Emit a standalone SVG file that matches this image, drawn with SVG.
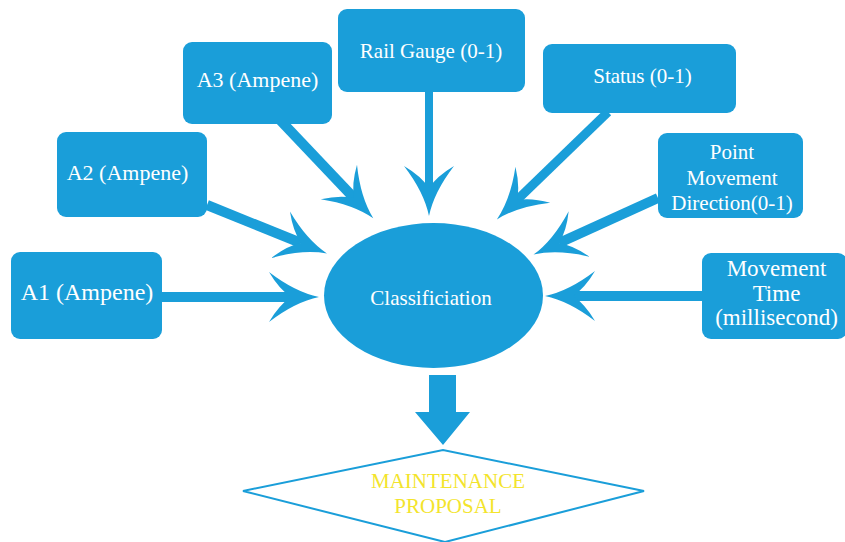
<svg xmlns="http://www.w3.org/2000/svg" width="845" height="542" viewBox="0 0 845 542">
<style>
.box{fill:#1a9ed9}
.lbl{font-family:"Liberation Serif","Times New Roman",serif;fill:#ffffff;text-anchor:middle}
.yel{font-family:"Liberation Serif","Times New Roman",serif;fill:#f3e42c;text-anchor:middle;font-size:21px}
.sh{stroke:#1a9ed9;stroke-width:10;fill:none;marker-end:url(#ah)}
</style>
<defs>
<marker id="ah" viewBox="-52 -27 54 54" refX="-28" refY="0" markerWidth="54" markerHeight="54" markerUnits="userSpaceOnUse" orient="auto" overflow="visible">
<path d="M0,0 Q-24,-5 -50,-25 Q-40,-8 -28,0 Q-40,8 -50,25 Q-24,5 0,0 Z" fill="#1a9ed9"/>
</marker>
</defs>
<g id="connectors">
<line class="sh" x1="162" y1="297" x2="291" y2="297"/>
<line class="sh" x1="207" y1="205" x2="301" y2="243"/>
<line class="sh" x1="280" y1="120" x2="354" y2="198"/>
<line class="sh" style="stroke-width:8" x1="429" y1="92" x2="429" y2="188"/>
<line class="sh" style="stroke-width:9" x1="608" y1="112" x2="517" y2="200"/>
<line class="sh" x1="658" y1="198" x2="559" y2="243"/>
<line class="sh" x1="702" y1="296" x2="573" y2="296"/>
<polygon points="429,375 456,375 456,412 470,412 443,445 415,412 429,412" fill="#1a9ed9"/>
</g>
<g id="A1"><rect class="box" x="11" y="252" width="151" height="87" rx="9"/><text class="lbl" font-family="Liberation Serif, serif" x="87" y="300" font-size="24">A1 (Ampene)</text></g>
<g id="A2"><rect class="box" x="57" y="132" width="150" height="85" rx="9"/><text class="lbl" font-family="Liberation Serif, serif" x="127.5" y="180" font-size="22">A2 (Ampene)</text></g>
<g id="A3"><rect class="box" x="183" y="42" width="149" height="82" rx="9"/><text class="lbl" font-family="Liberation Serif, serif" x="257.5" y="87" font-size="22">A3 (Ampene)</text></g>
<g id="railgauge"><rect class="box" x="338" y="9" width="187" height="83" rx="9"/><text class="lbl" font-family="Liberation Serif, serif" x="431" y="58" font-size="21">Rail Gauge (0-1)</text></g>
<g id="status"><rect class="box" x="543" y="44" width="193" height="69" rx="9"/><text class="lbl" font-family="Liberation Serif, serif" x="642.5" y="83" font-size="21">Status (0-1)</text></g>
<g id="pmd"><rect class="box" x="658" y="133" width="145" height="85" rx="9"/><text class="lbl" font-family="Liberation Serif, serif" font-size="21"><tspan x="732" y="159">Point</tspan><tspan x="732" y="185">Movement</tspan><tspan x="732" y="210">Direction(0-1)</tspan></text></g>
<g id="movetime"><rect class="box" x="702" y="253" width="145" height="86" rx="9"/><text class="lbl" font-family="Liberation Serif, serif" font-size="23"><tspan x="776.5" y="276">Movement</tspan><tspan x="776.5" y="301">Time</tspan><tspan x="776.5" y="325">(millisecond)</tspan></text></g>
<g id="classification"><ellipse cx="433.5" cy="295.5" rx="109.5" ry="72.5" fill="#1a9ed9"/><text class="lbl" font-family="Liberation Serif, serif" x="431" y="305" font-size="21">Classificiation</text></g>
<g id="maintenance"><polygon points="243,491 443,450 644,491 445,542" fill="#ffffff" stroke="#1a9ed9" stroke-width="2"/><text class="yel" x="448" y="488">MAINTENANCE</text><text class="yel" x="448" y="513">PROPOSAL</text></g>
</svg>
